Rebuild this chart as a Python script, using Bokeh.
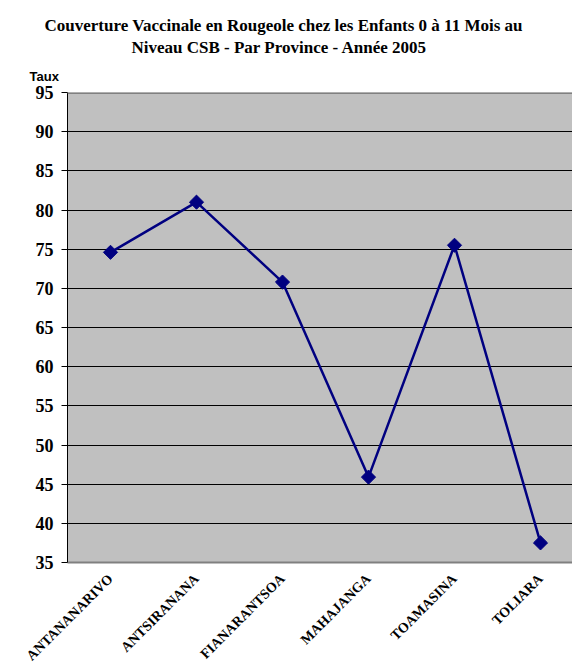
import numpy as np
from bokeh.plotting import figure
from bokeh.models import Title, FixedTicker, Range1d, Span
from bokeh.embed import file_html
from bokeh.resources import INLINE

title_line1 = "Couverture Vaccinale en Rougeole chez les Enfants 0 à 11 Mois au"
title_line2 = "Niveau CSB -  Par Province - Année 2005"
y_title = "Taux"

provinces = ["ANTANANARIVO", "ANTSIRANANA", "FIANARANTSOA", "MAHAJANGA", "TOAMASINA", "TOLIARA"]
taux = [74.6, 81.0, 70.8, 45.9, 75.5, 37.5]
y_ticks = [35, 40, 45, 50, 55, 60, 65, 70, 75, 80, 85, 90, 95]

xpos = [i + 0.5 for i in range(len(provinces))]

p = figure(width=572, height=671, output_backend="svg", toolbar_location=None, title=None,
           x_range=Range1d(0, 5.872), y_range=Range1d(y_ticks[0], y_ticks[-1]),
           min_border_left=67, min_border_right=0, min_border_top=92, min_border_bottom=107)
p.background_fill_color = "#C0C0C0"
p.border_fill_color = "white"
p.outline_line_color = None

# axes
p.xaxis.ticker = FixedTicker(ticks=xpos)
p.xaxis.major_label_overrides = {x: n for x, n in zip(xpos, provinces)}
p.xaxis.major_label_orientation = np.pi / 4
p.xaxis.major_label_text_font = "Liberation Serif"
p.xaxis.major_label_text_font_style = "bold"
p.xaxis.major_label_text_font_size = "14px"
p.xaxis.major_label_text_color = "black"
p.xaxis.major_tick_line_color = None
p.xaxis.minor_tick_line_color = None
p.xaxis.axis_line_color = "#808080"
p.xaxis.axis_line_width = 2
p.xaxis.major_label_standoff = 8

p.yaxis.ticker = FixedTicker(ticks=y_ticks)
p.yaxis.major_label_text_font = "Liberation Serif"
p.yaxis.major_label_text_font_style = "bold"
p.yaxis.major_label_text_font_size = "18px"
p.yaxis.major_label_text_color = "black"
p.yaxis.axis_line_color = "black"
p.yaxis.major_tick_line_color = "black"
p.yaxis.major_tick_in = 0
p.yaxis.major_tick_out = 6
p.yaxis.minor_tick_line_color = None
p.yaxis.major_label_standoff = 8

p.xgrid.grid_line_color = None
p.ygrid.ticker = FixedTicker(ticks=y_ticks[1:-1])
p.ygrid.grid_line_color = "black"
p.ygrid.grid_line_width = 1

# grey top border of the plot area
p.add_layout(Span(location=y_ticks[-1], dimension="width",
                  line_color="#808080", line_width=3))

p.line(xpos, taux, line_color="#000080", line_width=2.5)
p.scatter(xpos, taux, marker="square", angle=np.pi / 4, size=10,
          fill_color="#000080", line_color="#000080")

p.add_layout(Title(text=y_title, align="left", offset=-38, standoff=18,
                   text_font="Liberation Sans", text_font_style="bold",
                   text_font_size="13px", text_color="black"), "above")
p.add_layout(Title(text=title_line2, align="left", offset=64, standoff=2,
                   text_font="Liberation Serif", text_font_style="bold",
                   text_font_size="17px", text_color="black"), "above")
p.add_layout(Title(text=title_line1, align="left", offset=-23, standoff=0,
                   text_font="Liberation Serif", text_font_style="bold",
                   text_font_size="17px", text_color="black"), "above")

open("out.html", "w").write(file_html(p, INLINE))
